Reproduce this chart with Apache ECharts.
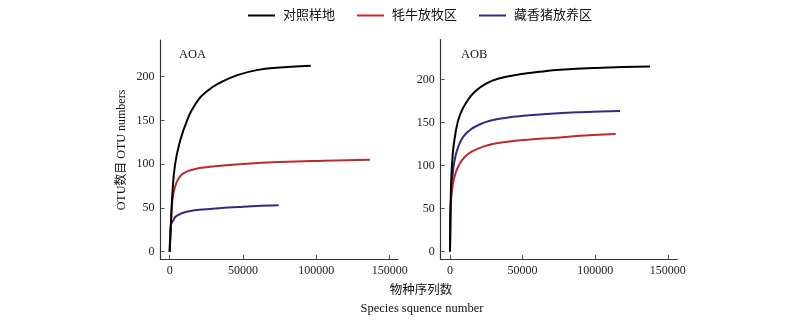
<!DOCTYPE html>
<html>
<head>
<meta charset="utf-8">
<script src="https://cdn.jsdelivr.net/npm/echarts@6/dist/echarts.min.js"></script>
<style>html,body{margin:0;padding:0;background:#fff}#c{width:800px;height:324px}</style>
</head>
<body>
<div id="c"></div>
<script>
// ---- data ----
var seriesNames = ['对照样地', '牦牛放牧区', '藏香猪放养区'];
var xTicks = [0, 50000, 100000, 150000];
var yTicks = [0, 50, 100, 150, 200];
var panelTitles = ['AOA', 'AOB'];

// AOA panel
var aoaControlX = [0, 900, 1800, 3600, 7000, 11600, 17250, 25200, 35400, 45700, 59300, 75200, 96200];
var aoaControlY = [0, 34, 65, 99, 126, 149, 168, 183, 194, 201.5, 207.5, 210.5, 212.5];
var aoaGrazeX = [0, 900, 2000, 3600, 5900, 9300, 16100, 27500, 50200, 75200, 105000, 136600];
var aoaGrazeY = [0, 36, 61, 74, 83, 89.6, 94, 97, 100.2, 102.5, 104, 105];
var aoaPigX = [0, 300, 900, 2500, 4750, 11600, 27500, 50200, 74350];
var aoaPigY = [0, 18, 30.5, 36, 41, 45.7, 48.8, 51.4, 53];

// AOB panel
var aobControlX = [0, 600, 1840, 3900, 6900, 11500, 17200, 25250, 34400, 48200, 62000, 75800, 100000, 137700];
var aobControlY = [0, 70, 112, 139, 159, 174, 186, 195.6, 201.4, 206, 209, 211.4, 213.5, 215];
var aobGrazeX = [0, 300, 690, 1600, 3440, 6200, 10300, 14900, 22950, 32100, 43600, 57400, 71200, 90000, 114100];
var aobGrazeY = [0, 35, 58, 73.5, 89, 100.6, 110.2, 116, 122, 125.8, 128.5, 130.5, 132, 134.5, 136.6];
var aobPigX = [0, 300, 690, 1840, 3440, 5740, 9180, 13800, 19500, 27550, 39000, 52800, 66600, 90000, 117100];
var aobPigY = [0, 38, 62, 89, 108.4, 122, 133.5, 141.3, 147, 152, 155.6, 158, 160, 162, 163.4];

// ---- build ----
var colors = ['#000000', '#be2a2c', '#342a86'];
var SERIF = '"Liberation Serif", "Times New Roman", "Noto Sans CJK SC", serif';

function pairs(xs, ys) { return xs.map(function (x, i) { return [x, ys[i]]; }); }

var panels = [
  [pairs(aoaControlX, aoaControlY), pairs(aoaGrazeX, aoaGrazeY), pairs(aoaPigX, aoaPigY)],
  [pairs(aobControlX, aobControlY), pairs(aobGrazeX, aobGrazeY), pairs(aobPigX, aobPigY)]
];

function plain(v) { return String(v); }

function xAxis(idx, min, max) {
  return {
    type: 'value', gridIndex: idx, min: min, max: max,
    axisLine: { show: true, onZero: false, lineStyle: { color: '#333', width: 1.2 } },
    axisTick: { show: true, inside: true, length: 4, customValues: xTicks, lineStyle: { color: '#555' } },
    axisLabel: { customValues: xTicks, formatter: plain, fontFamily: SERIF, fontSize: 12, color: '#222', margin: 6 },
    splitLine: { show: false }
  };
}
function yAxis(idx, min, max) {
  return {
    type: 'value', gridIndex: idx, min: min, max: max,
    axisLine: { show: true, onZero: false, lineStyle: { color: '#333', width: 1.2 } },
    axisTick: { show: true, inside: true, length: 4, customValues: yTicks, lineStyle: { color: '#555' } },
    axisLabel: { customValues: yTicks, formatter: plain, fontFamily: SERIF, fontSize: 12, color: '#222', margin: 6 },
    splitLine: { show: false }
  };
}

var series = [];
panels.forEach(function (p, gi) {
  p.forEach(function (d, si) {
    series.push({
      name: seriesNames[si], type: 'line', xAxisIndex: gi, yAxisIndex: gi,
      data: d, showSymbol: false, smooth: 0.5,
      lineStyle: { color: colors[si], width: 2 }, itemStyle: { color: colors[si] },
      z: 3 - si
    });
  });
});

var chart = echarts.init(document.getElementById('c'), null, { renderer: 'canvas' });
chart.setOption({
  animation: false,
  backgroundColor: '#fff',
  legend: {
    data: seriesNames, left: 243, top: 4, itemWidth: 27, itemHeight: 2, itemGap: 22,
    icon: 'rect',
    textStyle: { fontFamily: SERIF, fontSize: 13, color: '#111', padding: [0, 0, 0, 3] }
  },
  grid: [
    { left: 160.5, top: 40, width: 237.5, height: 219 },
    { left: 440.7, top: 39.5, width: 236.6, height: 219.5 }
  ],
  xAxis: [xAxis(0, -6280, 155700), xAxis(1, -6400, 156500)],
  yAxis: [yAxis(0, -8.3, 241.9), yAxis(1, -8.7, 246.5)],
  series: series,
  graphic: [
    { type: 'text', x: 179, y: 55, style: { text: panelTitles[0], font: '12.5px ' + SERIF, fill: '#111', verticalAlign: 'middle' } },
    { type: 'text', x: 461, y: 55, style: { text: panelTitles[1], font: '12.5px ' + SERIF, fill: '#111', verticalAlign: 'middle' } },
    { type: 'text', x: 122, y: 150, rotation: Math.PI / 2, style: { text: 'OTU数目 OTU numbers', font: '12px ' + SERIF, fill: '#111', align: 'center', verticalAlign: 'middle' } },
    { type: 'text', x: 421, y: 291, style: { text: '物种序列数', font: '12.5px ' + SERIF, fill: '#111', align: 'center', verticalAlign: 'middle' } },
    { type: 'text', x: 422, y: 308.5, style: { text: 'Species squence number', font: '12.5px ' + SERIF, fill: '#111', align: 'center', verticalAlign: 'middle' } }
  ]
});
</script>
</body>
</html>
